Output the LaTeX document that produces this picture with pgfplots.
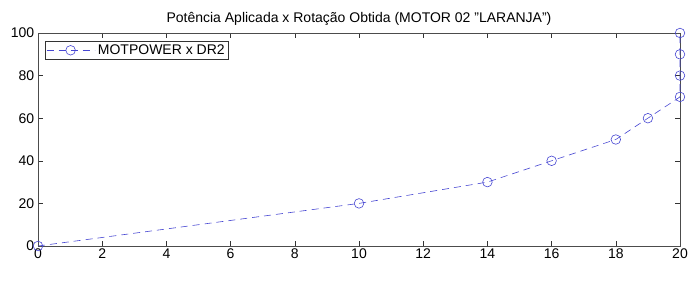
\documentclass[border=0pt]{standalone}
\usepackage{pgfplots}
\pgfplotsset{compat=1.18}
\usepackage{fontspec}
\setmainfont{Liberation Sans}
\definecolor{mblue}{RGB}{70,70,210}
\begin{document}
\fontsize{14pt}{16pt}\selectfont
\begin{tikzpicture}
\begin{axis}[
  name=ax,
  scale only axis,
  width=642pt, height=213pt,
  xmin=0, xmax=20, ymin=0, ymax=100,
  xtick={0,2,...,20}, ytick={0,20,...,100},
  tick align=inside,
  major tick length=5pt,
  axis line style={line width=0.6pt, black!70},
  tick style={black!80, line width=0.5pt},
  /pgf/number format/assume math mode=true,
  ticklabel style={font=\fontsize{14pt}{16pt}\selectfont},
  xticklabel style={yshift=2pt},
  yticklabel style={xshift=1pt},
  title={Potência Aplicada x Rotação Obtida (MOTOR 02 "LARANJA")},
  title style={font=\fontsize{14pt}{16pt}\selectfont, yshift=-3pt},
  legend style={font=\fontsize{14pt}{16pt}\selectfont, draw=black!80, line width=0.5pt, inner sep=1pt, at={(0.011,0.962)}, anchor=north west,
    nodes={inner xsep=3pt}},
  legend image code/.code={\draw[mark repeat=2,mark phase=2,#1] plot coordinates {(0pt,0pt) (24pt,0pt) (48pt,0pt)};},
  legend cell align=left,
  clip=false,
]
\addplot[mblue, line width=0.6pt, dash pattern=on 7pt off 5pt, mark=o, mark size=4.8pt, mark options={solid}]
  coordinates {(0,0) (10,20) (14,30) (16,40) (18,50) (19,60) (20,70) (20,80) (20,90) (20,100)};
\addlegendentry{MOTPOWER x DR2}
\end{axis}
\path[use as bounding box] (ax.south west) ++(-38pt,-37pt) rectangle ([xshift=20pt,yshift=33pt]ax.north east);
\end{tikzpicture}
\end{document}
